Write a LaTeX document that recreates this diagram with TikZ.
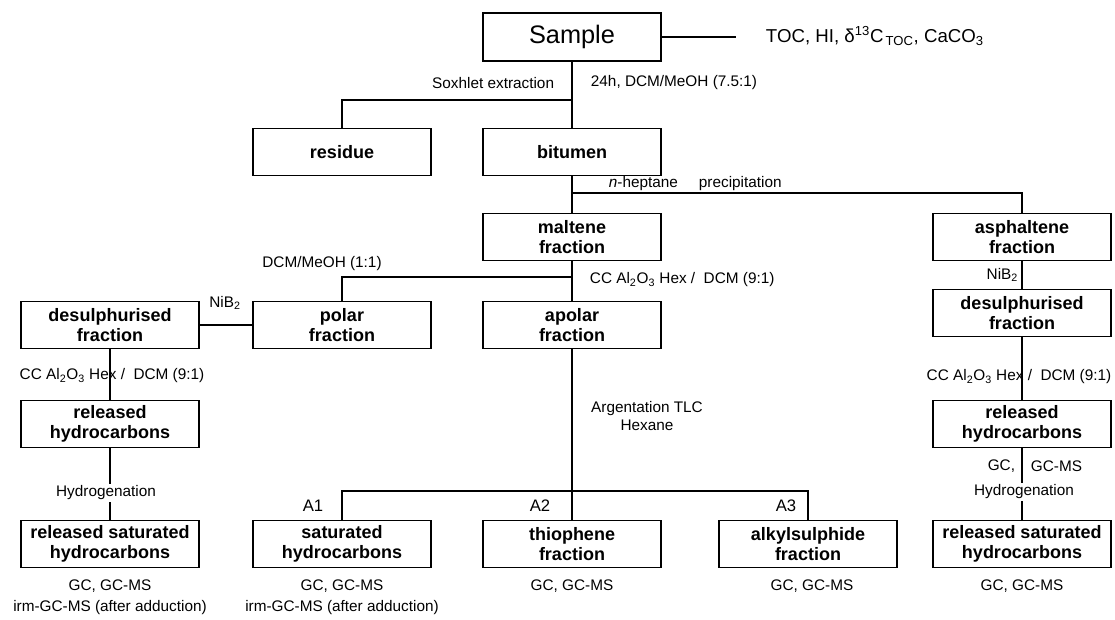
\documentclass[tikz,border=0pt]{standalone}
\usepackage{fontspec}
\setmainfont{Liberation Sans}
\begin{document}
\begin{tikzpicture}[x=0.75pt,y=-0.75pt,line width=0.9pt,
	box/.style={draw,line width=1.2pt,minimum width=133.5pt,minimum height=35pt,align=center,inner sep=1pt,font=\fontsize{13.5}{15}\selectfont\bfseries},
	lab/.style={inner sep=1pt,font=\fontsize{11.5}{13}\selectfont},
	hyd/.style={lab,fill=white,inner sep=1.5pt}]
	\useasboundingbox (0,0) rectangle (1115,619);
	% boxes
	\node[box,minimum height=36pt,font=\fontsize{19}{21}\selectfont] (sample) at (572,37) {Sample};
	\node[box] (residue) at (342,152) {residue};
	\node[box] (bitumen) at (572,152) {bitumen};
	\node[box] (maltene) at (572,237) {maltene\\fraction};
	\node[box] (asph) at (1022,237) {asphaltene\\fraction};
	\node[box] (desL) at (110,325) {desulphurised\\fraction};
	\node[box] (polar) at (342,325) {polar\\fraction};
	\node[box] (apolar) at (572,325) {apolar\\fraction};
	\node[box] (desR) at (1022,313) {desulphurised\\fraction};
	\node[box] (relL) at (110,424) {released\\hydrocarbons};
	\node[box] (relR) at (1022,424) {released\\hydrocarbons};
	\node[box] (satL) at (110,544) {released saturated\\hydrocarbons};
	\node[box] (sat) at (342,544) {saturated\\hydrocarbons};
	\node[box] (thio) at (572,544) {thiophene\\fraction};
	\node[box] (alkyl) at (808,544) {alkylsulphide\\fraction};
	\node[box] (satR) at (1022,544) {released saturated\\hydrocarbons};
	% connectors
	\coordinate (toc) at (736,37);
	\coordinate (sox) at (572,100);
	\coordinate (hep) at (572,193);
	\coordinate (dcm) at (572,277);
	\coordinate (arg) at (572,491);
	\draw (sample) -- (toc);
	\draw (sample) -- (bitumen) -- (maltene) -- (apolar) -- (thio);
	\draw (residue) |- (sox);
	\draw (asph) |- (hep);
	\draw (polar) |- (dcm);
	\draw (polar) -- (desL) -- (relL) -- (satL);
	\draw (sat) |- (arg) -| (alkyl);
	\draw (asph) -- (desR) -- (relR) -- (satR);
	% labels
	\node[lab,anchor=west,font=\fontsize{14}{16}\selectfont] (anal) at (764,36) {TOC, HI, δ\textsuperscript{13}C\textsubscript{\,TOC}, CaCO\textsubscript{3}};
	\node[lab,anchor=east] (soxhlet) at (556,83) {Soxhlet extraction};
	\node[lab,anchor=west] (solv) at (589,83) {24h, DCM/MeOH (7.5:1)};
	\node[lab,anchor=west] (hept) at (607,184) {\textit{n}-heptane};
	\node[lab,anchor=west] (prec) at (697,184) {precipitation};
	\node[lab] (dcmlab) at (322,264) {DCM/MeOH (1:1)};
	\node[lab,anchor=west] (ccM) at (588,280) {CC Al\textsubscript{2}O\textsubscript{3} Hex / \ DCM (9:1)};
	\node[lab] (ccL) at (112,376) {CC Al\textsubscript{2}O\textsubscript{3} Hex / \ DCM (9:1)};
	\node[lab] (ccR) at (1019,377) {CC Al\textsubscript{2}O\textsubscript{3} Hex / \ DCM (9:1)};
	\node[lab] (nibL) at (225,303) {NiB\textsubscript{2}};
	\node[lab,anchor=east] (nibR) at (1020,275) {NiB\textsubscript{2}};
	\node[lab,align=center] (tlc) at (647,416) {Argentation TLC\\Hexane};
	\foreach \n/\x in {1/313,2/540,3/786}{
		\node[lab,font=\fontsize{12.5}{14}\selectfont] (a\n) at (\x,506) {A\n};
	}
	\node[hyd] (hydL) at (106,493) {Hydrogenation};
	\node[hyd] (hydR) at (1024,492) {Hydrogenation};
	\node[lab,anchor=east] (gcR) at (1017,466) {GC,};
	\node[lab,anchor=west] (gcmsR) at (1029,466) {GC-MS};
	\foreach \n/\x in {gcL/110,gcS/342,gcT/572,gcA/812,gcB/1022}{
		\node[lab] (\n) at (\x,586) {GC, GC-MS};%GC
	}
	\foreach \n/\x in {irmL/110,irmS/342}{
		\node[lab] (\n) at (\x,608) {irm-GC-MS (after adduction)};
	}
\end{tikzpicture}
\end{document}
